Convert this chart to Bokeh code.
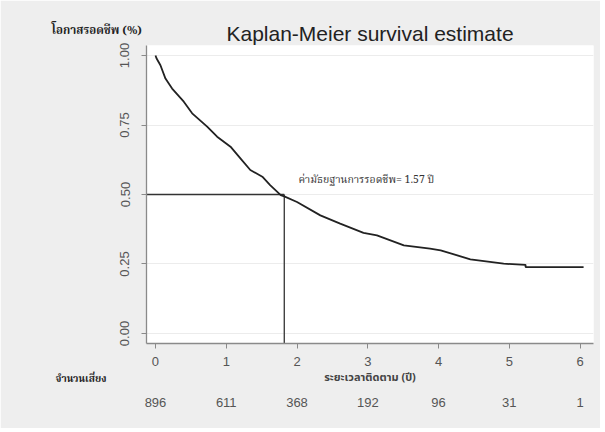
from bokeh.plotting import figure
from bokeh.models import Range1d, FixedTicker, PrintfTickFormatter, Label, LinearAxis
from bokeh.embed import file_html
from bokeh.resources import INLINE

# Kaplan-Meier curve
time_years = [0.0, 0.014, 0.07, 0.141, 0.235, 0.40, 0.518, 0.73, 0.871, 1.06, 1.20, 1.34,
              1.51, 1.62, 1.77, 1.82, 2.0, 2.33, 2.61, 2.94, 3.13, 3.51, 3.88, 4.03,
              4.45, 4.92, 5.23, 5.23, 6.05]
survival = [1.0, 0.99, 0.965, 0.917, 0.881, 0.834, 0.792, 0.744, 0.708, 0.672, 0.630, 0.588,
            0.564, 0.534, 0.498, 0.493, 0.473, 0.425, 0.395, 0.362, 0.353, 0.317, 0.305, 0.299,
            0.267, 0.251, 0.247, 0.239, 0.239]

median_time = 1.82
median_surv = 0.5
median_text = "ค่ามัธยฐานการรอดชีพ= 1.57 ปี"

x_ticks = [0, 1, 2, 3, 4, 5, 6]
y_ticks = [0.0, 0.25, 0.5, 0.75, 1.0]
at_risk = [896, 611, 368, 192, 96, 31, 1]

title_text = "Kaplan-Meier survival estimate"
y_label = "โอกาสรอดชีพ (%)"
x_label = "ระยะเวลาติดตาม (ปี)"
risk_label = "จำนวนเสี่ยง"

THAI = "Noto Sans Thai, Noto Serif Thai, Noto Sans, sans-serif"
THAI_SERIF = "Noto Serif Thai, Noto Sans Thai, DejaVu Serif, serif"

x0, x1 = -0.127, 6.19
y0, y1 = -0.036, 1.036

p = figure(width=600, height=428, output_backend="svg", toolbar_location=None,
           x_range=Range1d(x0, x1), y_range=Range1d(y0, y1),
           min_border_left=146, min_border_right=7, min_border_top=45, min_border_bottom=85,
           background_fill_color="white", border_fill_color="#eeeeee",
           outline_line_color=None)

p.title.text = title_text
p.title.align = "center"
p.title.text_font = "Liberation Sans"
p.title.text_font_size = "21px"
p.title.text_font_style = "normal"
p.title.text_color = "#222222"
p.title.standoff = 1

# axes
for ax in (p.xaxis[0], p.yaxis[0]):
    ax.axis_line_color = "#8a8a8a"
    ax.axis_line_width = 1.3
    ax.major_tick_line_color = "#8a8a8a"
    ax.major_tick_out = 5
    ax.major_tick_in = 0
    ax.minor_tick_line_color = None
    ax.major_label_text_font = "Liberation Sans"
    ax.major_label_text_font_size = "13px"
    ax.major_label_text_color = "#555555"

p.xaxis.ticker = FixedTicker(ticks=x_ticks)
p.yaxis.ticker = FixedTicker(ticks=y_ticks)
p.yaxis.formatter = PrintfTickFormatter(format="%.2f")
p.yaxis.major_label_orientation = "vertical"
p.yaxis.major_label_standoff = 12
p.xaxis.major_label_standoff = 8

p.xaxis.axis_label = x_label
p.xaxis.axis_label_text_font = THAI
p.xaxis.axis_label_text_font_size = "11px"
p.xaxis.axis_label_text_font_style = "bold"
p.xaxis.axis_label_text_color = "#444444"
p.xaxis.axis_label_standoff = 0

# number-at-risk row as a second bottom axis
risk_axis = LinearAxis(ticker=FixedTicker(ticks=x_ticks),
                       major_label_overrides={t: str(n) for t, n in zip(x_ticks, at_risk)})
risk_axis.axis_line_color = None
risk_axis.major_tick_line_color = None
risk_axis.minor_tick_line_color = None
risk_axis.major_label_text_font = "Liberation Sans"
risk_axis.major_label_text_font_size = "13px"
risk_axis.major_label_text_color = "#555555"
risk_axis.major_label_standoff = 3
p.add_layout(risk_axis, "below")

p.xgrid.grid_line_color = None
p.ygrid.ticker = FixedTicker(ticks=y_ticks)
p.ygrid.grid_line_color = "#ececec"
p.ygrid.grid_line_width = 1

# median reference lines
p.line([x0, median_time], [median_surv, median_surv], line_color="#333333", line_width=1.3)
p.line([median_time, median_time], [median_surv, y0], line_color="#333333", line_width=1.3)

# KM curve
p.line(time_years, survival, line_color="#222222", line_width=1.8)

p.add_layout(Label(x=2.02, y=0.551, text=median_text, text_font=THAI_SERIF,
                   text_font_size="10.5px", text_color="#333333", text_baseline="middle"))

# texts outside the frame, placed in side panels (not clipped to the frame)
p.add_layout(Label(x=24, y=313, x_units="screen", y_units="screen", text=y_label,
                   text_font=THAI_SERIF, text_font_size="11.5px", text_font_style="bold",
                   text_color="#222222", text_baseline="middle"), "left")

p.add_layout(Label(x=-91, y=47, x_units="screen", y_units="screen", text=risk_label,
                   text_font=THAI_SERIF, text_font_size="10px", text_font_style="bold",
                   text_color="#222222", text_baseline="middle"), "below")

open("out.html", "w").write(file_html(p, INLINE))
